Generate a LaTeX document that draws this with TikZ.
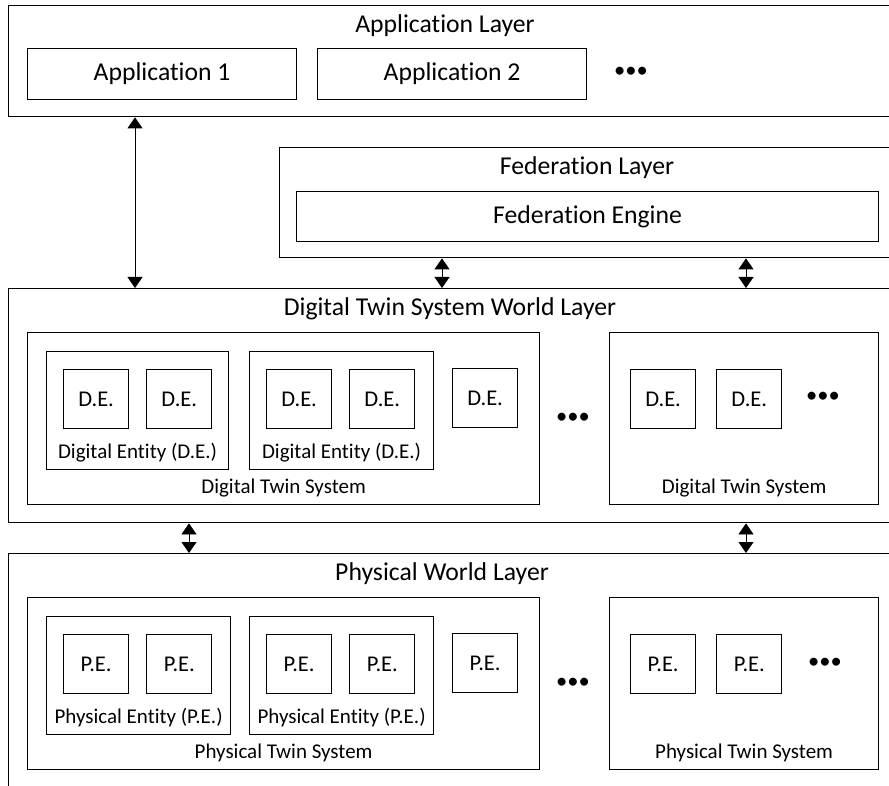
\documentclass[tikz,border=0pt]{standalone}
\usepackage{fontspec}
\setmainfont{Carlito}[RawFeature={-liga;-clig;-calt}]
\usetikzlibrary{%
	arrows.meta,%
	positioning,%
}
\newcommand{\layerfont}{\fontsize{25.7}{30}\selectfont}
\newcommand{\entityfont}{\fontsize{21}{25}\selectfont}
\newcommand{\boxfont}{\fontsize{22.5}{26}\selectfont}
\tikzset{
	>={Triangle[width=15pt,length=11pt]},%
	layer/.style={%
			draw,%
			rectangle,%
			line width=1.4pt,%
			anchor=north west,%
			inner sep=0pt},%
	block/.style={%
			draw,%
			rectangle,%
			line width=1.2pt,%
			anchor=north west,%
			inner sep=0pt,%
			font=\layerfont},%
	entitybox/.style={%
			draw,%
			rectangle,%
			line width=1.2pt,%
			anchor=north west,%
			minimum width=65pt,%
			minimum height=59pt,%
			font=\boxfont},%
	title/.style={font=\layerfont, inner sep=0pt},%
	caption/.style={font=\entityfont, inner sep=0pt},%
	more/.style={font=\boxfont, inner sep=0pt},%
	link/.style={<->, line width=0.8pt},%
}

\begin{document}
\begin{tikzpicture}[x=1pt, y=-1pt]
	\useasboundingbox (0,0) rectangle (889,786);
	\clip (0,0) rectangle (889,786);

	% application layer
	\node[layer, minimum width=900pt, minimum height=111pt] (applayer) at (8,5) {};
	\node[title] (applayer-title) at (445,26) {Application Layer};
	\node[block, minimum width=269pt, minimum height=51pt] (app1) at (27,48) {Application 1};
	\node[block, minimum width=269pt, minimum height=51pt] (app2) at (317,48) {Application 2};
	\node[more] (appdots) at (631,72) {\textbullet\textbullet\textbullet};

	% federation layer
	\node[layer, minimum width=620pt, minimum height=110pt] (fedlayer) at (279,147) {};
	\node[title] (fedlayer-title) at (587,168) {Federation Layer};
	\node[block, minimum width=582pt, minimum height=50pt] (fedengine) at (296,191) {Federation Engine};

	% digital twin system world layer
	\node[layer, minimum width=900pt, minimum height=234pt] (diglayer) at (8,288) {};
	\node[title] (diglayer-title) at (450,309) {Digital Twin System World Layer};

	\node[block, minimum width=512pt, minimum height=172pt] (dts1) at (27,332) {};
	\node[caption] (dts1-label) at ([yshift=17pt]dts1.south) {Digital Twin System};
	\node[block, minimum width=182pt, minimum height=118pt] (deg1) at (46,351) {};
	\node[caption] (deg1-label) at ([yshift=18pt]deg1.south) {Digital Entity (D.E.)};
	\node[entitybox] (de11) at (63,369) {D.E.};
	\node[entitybox, right=17pt of de11.north east, anchor=north west] (de12) {D.E.};
	\node[block, minimum width=184pt, minimum height=118pt] (deg2) at (249,351) {};
	\node[caption] (deg2-label) at ([yshift=18pt]deg2.south) {Digital Entity (D.E.)};
	\node[entitybox] (de21) at (266,369) {D.E.};
	\node[entitybox, right=17pt of de21.north east, anchor=north west] (de22) {D.E.};
	\node[entitybox] (de3) at (452,368) {D.E.};
	\node[more] (digdots) at (573,418) {\textbullet\textbullet\textbullet};

	\node[block, minimum width=269pt, minimum height=172pt] (dts2) at (609,332) {};
	\node[caption] (dts2-label) at ([yshift=17pt]dts2.south) {Digital Twin System};
	\node[entitybox] (de41) at (630,369) {D.E.};
	\node[entitybox, right=20pt of de41.north east, anchor=north west] (de42) {D.E.};
	\node[more] (dts2dots) at (823,397) {\textbullet\textbullet\textbullet};

	% physical world layer
	\node[layer, minimum width=900pt, minimum height=260pt] (phylayer) at (8,553) {};
	\node[title] (phylayer-title) at (442,574) {Physical World Layer};

	\node[block, minimum width=512pt, minimum height=172pt] (pts1) at (27,597) {};
	\node[caption] (pts1-label) at ([yshift=17pt]pts1.south) {Physical Twin System};
	\node[block, minimum width=184pt, minimum height=118pt] (peg1) at (46,616) {};
	\node[caption] (peg1-label) at ([yshift=18pt]peg1.south) {Physical Entity (P.E.)};
	\node[entitybox] (pe11) at (63,634) {P.E.};
	\node[entitybox, right=17pt of pe11.north east, anchor=north west] (pe12) {P.E.};
	\node[block, minimum width=184pt, minimum height=118pt] (peg2) at (249,616) {};
	\node[caption] (peg2-label) at ([yshift=18pt]peg2.south) {Physical Entity (P.E.)};
	\node[entitybox] (pe21) at (266,634) {P.E.};
	\node[entitybox, right=17pt of pe21.north east, anchor=north west] (pe22) {P.E.};
	\node[entitybox] (pe3) at (452,633) {P.E.};
	\node[more] (phydots) at (573,683) {\textbullet\textbullet\textbullet};

	\node[block, minimum width=269pt, minimum height=172pt] (pts2) at (609,597) {};
	\node[caption] (pts2-label) at ([yshift=17pt]pts2.south) {Physical Twin System};
	\node[entitybox] (pe41) at (630,634) {P.E.};
	\node[entitybox, right=20pt of pe41.north east, anchor=north west] (pe42) {P.E.};
	\node[more] (pts2dots) at (825,663) {\textbullet\textbullet\textbullet};

	% links between the layers
	\coordinate (appx) at (135,0);
	\coordinate (fedx1) at (442,0);
	\coordinate (fedx2) at (746,0);
	\coordinate (phyx1) at (189,0);
	\coordinate (phyx2) at (746,0);
	\draw[link] (applayer.south -| appx) -- (diglayer.north -| appx);
	\draw[link] (fedlayer.south -| fedx1) -- (diglayer.north -| fedx1);
	\draw[link] (fedlayer.south -| fedx2) -- (diglayer.north -| fedx2);
	\draw[link] (diglayer.south -| phyx1) -- (phylayer.north -| phyx1);
	\draw[link] (diglayer.south -| phyx2) -- (phylayer.north -| phyx2);
\end{tikzpicture}
\end{document}
